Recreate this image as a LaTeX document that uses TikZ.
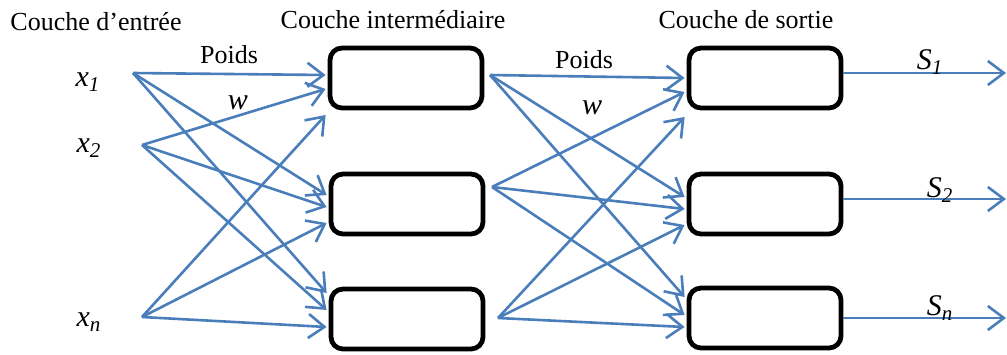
\documentclass[tikz,border=0pt]{standalone}
\usepackage{fontspec}
\setmainfont{Liberation Serif}
\usetikzlibrary{arrows.meta,calc}
\definecolor{wire}{HTML}{4A7EBB}

\begin{document}
\begin{tikzpicture}[x=0.5pt,y=-0.5pt,font=\fontsize{13}{15}\selectfont,
  neuron/.style={draw=black,line width=2.4pt,rounded corners=6pt,
    minimum width=76pt,minimum height=30pt,inner sep=0pt},
  link/.style={wire,line width=1.3pt,-{Straight Barb[length=8pt,width=12pt]}},
  var/.style={font=\fontsize{15}{17}\selectfont\itshape}]
  \useasboundingbox (0,0) rectangle (1007,354);

  % layer titles
  \node (tin)  at (96,22)  {Couche d’entrée};
  \node (thid) at (393,20) {Couche intermédiaire};
  \node (tout) at (746,20) {Couche de sortie};

  % inputs and the roots of their fans
  \node[var] (x1) at (88,82)  {x\textsubscript{1}};
  \node[var] (x2) at (89,148) {x\textsubscript{2}};
  \node[var] (xn) at (89,322) {x\textsubscript{n}};
  \coordinate (a1) at (133,73);
  \coordinate (a2) at (142,145);
  \coordinate (a3) at (142,317);

  % hidden and output cells
  \node[neuron] (h1) at (406,78)  {};
  \node[neuron] (h2) at (407,204) {};
  \node[neuron] (h3) at (407,319) {};
  \node[neuron] (o1) at (765,78)  {};
  \node[neuron] (o2) at (765,204) {};
  \node[neuron] (o3) at (765,318) {};
  \coordinate (b1) at (490,75);
  \coordinate (b2) at (492,187);
  \coordinate (b3) at (498,318);

  % weights
  \node (p1) at (229,55) {Poids};
  \node[var] (w1) at (238,103) {w};
  \node (p2) at (584,60) {Poids};
  \node[var] (w2) at (592,108) {w};

  \foreach \s/\t/\dy in {a1/h1/-3,a2/h1/11,a3/h1/37,
                         a1/h2/-9,a2/h2/3,a3/h2/19,
                         a1/h3/-26,a2/h3/-9,a3/h3/8,
                         b1/o1/0,b2/o1/14,b3/o1/39,
                         b1/o2/-7,b2/o2/5,b3/o2/21,
                         b1/o3/-21,b2/o3/-3,b3/o3/9}
    \draw[link] (\s) -- ($(\t.west)+(-2,\dy)$);

  % outputs
  \coordinate (y1) at (1006,73);
  \coordinate (y2) at (1006,199);
  \coordinate (yn) at (1006,318);
  \draw[link] (o1.east |- y1) -- (y1);
  \draw[link] (o2.east |- y2) -- (y2);
  \draw[link] (o3.east |- yn) -- (yn);
  \node[var] (s1) at (930,62)  {S\textsubscript{1}};
  \node[var] (s2) at (940,190) {S\textsubscript{2}};
  \node[var] (sn) at (940,308) {S\textsubscript{n}};
\end{tikzpicture}
\end{document}
